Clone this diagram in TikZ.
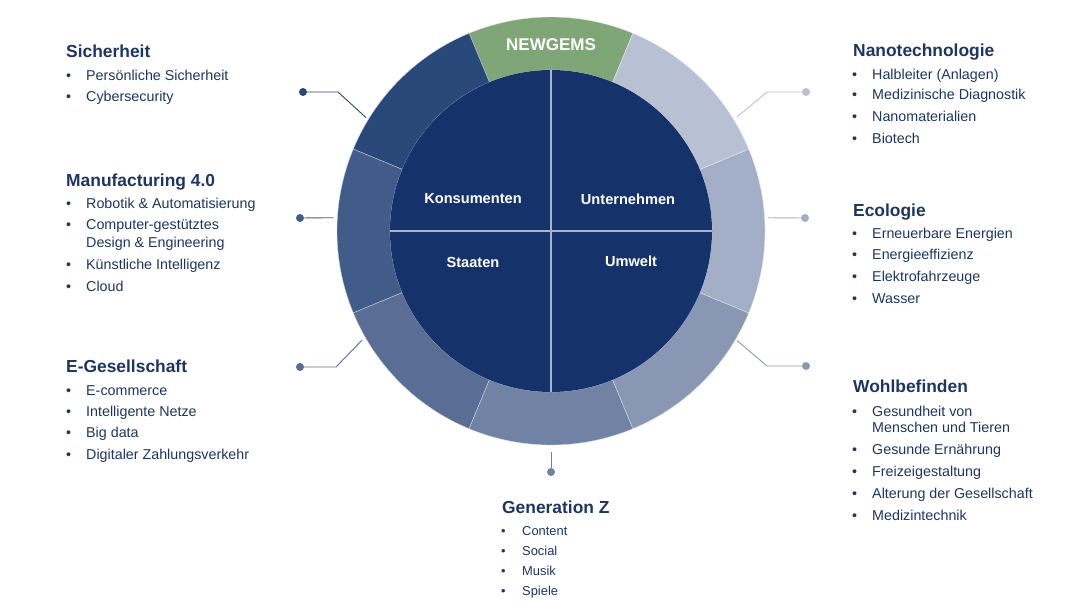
\documentclass[tikz,border=0pt]{standalone}
\usepackage{fontspec}
\setmainfont{Liberation Sans}
\usepackage{xcolor}
\usetikzlibrary{positioning,calc}

\definecolor{coreblue}{HTML}{15336A}
\definecolor{txtblue}{HTML}{1C3564}
\definecolor{crossline}{HTML}{A8B4CB}
\definecolor{gemgreen}{HTML}{7FA676}
\definecolor{segA}{HTML}{29487A}
\definecolor{segB}{HTML}{425C8A}
\definecolor{segC}{HTML}{5A6D94}
\definecolor{segD}{HTML}{7183A5}
\definecolor{segE}{HTML}{8997B4}
\definecolor{segF}{HTML}{A3AFC6}
\definecolor{segG}{HTML}{B8C1D3}

\tikzset{
  head/.style={anchor=base west, inner sep=0pt, text=txtblue, font=\fontsize{17.4}{20}\selectfont\bfseries},
  item/.style={anchor=base west, inner sep=0pt, text=txtblue, font=\fontsize{14.3}{17}\selectfont},
  smallitem/.style={item, font=\fontsize{12.9}{15}\selectfont},
  quadlabel/.style={text=white, inner sep=0pt, font=\fontsize{14.6}{16}\selectfont\bfseries},
  linkdot/.style={circle, fill=#1, inner sep=0pt, minimum size=8pt},
  leader/.style={draw=#1, line width=0.9pt},
}

\begin{document}
\begin{tikzpicture}[x=1pt, y=-1pt]
    \useasboundingbox (0,0) rectangle (1089,606);

    % Ring, core and quarters
    \begin{scope}[shift={(551,231)}, y=1pt]
        \foreach \a/\col [evaluate=\a as \s using \a-22.5, evaluate=\a as \e using \a+22.5]
            in {90/gemgreen, 135/segA, 180/segB, 225/segC, 270/segD, 315/segE, 0/segF, 45/segG} {
            \filldraw[fill=\col, draw=white!70!\col, line width=0.35pt] (\s:161) arc[start angle=\s, end angle=\e, radius=161]
                -- (\e:214) arc[start angle=\e, end angle=\s, radius=214] -- cycle;
        }
        \node[circle, fill=coreblue, minimum size=322pt, inner sep=0pt] (core) at (0,0) {};
        \draw[crossline, line width=2.6pt] (core.west) -- (core.east);
        \draw[crossline, line width=2.6pt] (core.north) -- (core.south);

        \node[text=white, font=\fontsize{17}{19}\selectfont\bfseries] (gems) at (90:186) {NEWGEMS};
        \node[quadlabel] (kons) at (-78,32) {Konsumenten};
        \node[quadlabel] (untern) at (77,32) {Unternehmen};
        \node[quadlabel] (staaten) at (-78,-31) {Staaten};
        \node[quadlabel] (umwelt) at (80,-30) {Umwelt};

        % where the leaders meet the ring
        \coordinate (sichR) at (148.5:217);
        \coordinate (manuR) at (176.5:218);
        \coordinate (egesR) at (210:218);
        \coordinate (genzR) at (270:221);
        \coordinate (wohlR) at (329.5:216);
        \coordinate (ecolR) at (3.5:217);
        \coordinate (nanoR) at (31.5:218);
    \end{scope}

    % Leaders with dots
    \node[linkdot=segA] (sichD) at (303,92) {};
    \node[linkdot=segB] (manuD) at (300,218) {};
    \node[linkdot=segC] (egesD) at (300,367) {};
    \node[linkdot=segD] (genzD) at (551,472) {};
    \node[linkdot=segE] (wohlD) at (806,366) {};
    \node[linkdot=segF] (ecolD) at (805,218) {};
    \node[linkdot=segG] (nanoD) at (806,92) {};
    \draw[leader=segA] (sichD) -- ++(35,0) -- (sichR);
    \draw[leader=segB] (manuD) -- (manuR);
    \draw[leader=segC] (egesD) -- ++(36,0) -- (egesR);
    \draw[leader=segD] (genzD) -- (genzR);
    \draw[leader=segE] (wohlD) -- ++(-39,0) -- (wohlR);
    \draw[leader=segF] (ecolD) -- (ecolR);
    \draw[leader=segG] (nanoD) -- ++(-39,0) -- (nanoR);

    % Headings
    \foreach \x/\y/\n/\t in {66/57/sich/Sicherheit, 66/186/manu/Manufacturing 4.0, 66/372/eges/E-Gesellschaft,
        853/56/nano/Nanotechnologie, 853/216/ecol/Ecologie, 853/392/wohl/Wohlbefinden, 502/513/genz/Generation Z}
        \node[head] (\n) at (\x,\y) {\t};

    % Bullet points
    \foreach \x/\y/\t in {
        86/80/Persönliche Sicherheit, 86/101/Cybersecurity,
        86/208/Robotik \& Automatisierung, 86/229/Computer-gestütztes, 86/269/Künstliche Intelligenz, 86/291/Cloud,
        86/395/E-commerce, 86/416/Intelligente Netze, 86/437/Big data, 86/459/Digitaler Zahlungsverkehr,
        872/79/Halbleiter (Anlagen), 872/99/Medizinische Diagnostik, 872/121/Nanomaterialien, 872/143/Biotech,
        872/238/Erneuerbare Energien, 872/259/Energieeffizienz, 872/281/Elektrofahrzeuge, 872/303/Wasser,
        872/416/Gesundheit von, 872/454/Gesunde Ernährung, 872/476/Freizeigestaltung,
        872/498/Alterung der Gesellschaft, 872/520/Medizintechnik} {
        \node[item] (it-\x-\y) at (\x,\y) {\t};
        \node[item] (bu-\x-\y) at (\x-20,\y) {\textbullet};
    }
    \node[item] (design) at (86,247) {Design \& Engineering};
    \node[item] (tiere) at (872,432) {Menschen und Tieren};

    \foreach \y/\t in {535/Content, 555/Social, 575/Musik, 595/Spiele} {
        \node[smallitem] (gz-\y) at (522,\y) {\t};
        \node[smallitem] (gzb-\y) at (501,\y) {\textbullet};
    }
\end{tikzpicture}
\end{document}
